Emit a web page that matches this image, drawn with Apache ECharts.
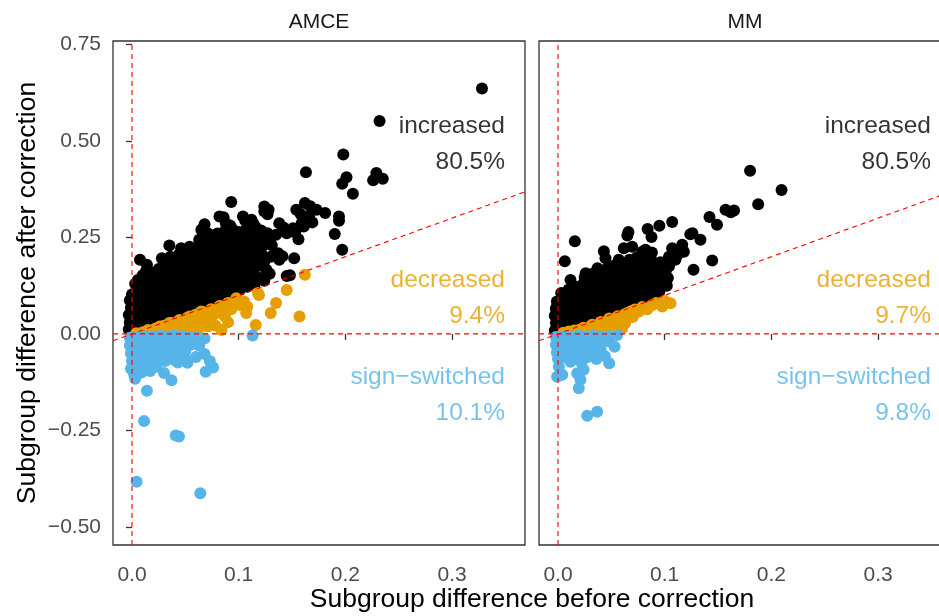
<!DOCTYPE html>
<html><head><meta charset="utf-8">
<script src="https://cdn.jsdelivr.net/npm/echarts@6/dist/echarts.min.js"></script>
<style>html,body{margin:0;padding:0;background:#fff;}#c{width:939px;height:616px;}</style>
</head><body><div id="c"></div>
<script>
const panels = ['AMCE', 'MM'];
const xTickValues = [0, 0.1, 0.2, 0.3];
const xTickLabels = ['0.0', '0.1', '0.2', '0.3'];
const yTickValues = [-0.5, -0.25, 0, 0.25, 0.5, 0.75];
const yTickLabels = ['\u22120.50', '\u22120.25', '0.00', '0.25', '0.50', '0.75'];
const xTitle = 'Subgroup difference before correction';
const yTitle = 'Subgroup difference after correction';

const annotationX = 0.35;
const annotationY = [0.5, 0.1, -0.15];
const annotationNames = ['increased', 'decreased', 'sign\u2212switched'];
const amcePercents = ['80.5%', '9.4%', '10.1%'];
const mmPercents = ['80.5%', '9.7%', '9.8%'];

const amceIncreased = [
[0.328,0.636],[0.232,0.552],[0.198,0.465],[0.163,0.419],[0.201,0.406],[0.197,0.389],[0.229,0.417],[0.226,0.398],[0.235,0.402],[0.207,0.363],
[0.093,0.342],[0.128,0.322],[0.127,0.31],[0.167,0.331],[0.158,0.311],[0.162,0.302],[0.181,0.313],[0.194,0.304],[0.194,0.293],[0.162,0.339],[0.154,0.322],[0.173,0.322],[0.166,0.304],
[0.142,0.276],[0.153,0.263],[0.169,0.289],[0.161,0.278],[0.159,0.287],[0.19,0.259],[0.197,0.218],[0.156,0.245],[0.152,0.196],[0.148,0.152],[0.129,0.156],[0.124,0.188],[0.141,0.201],[0.151,0.274],[0.145,0.261],[0.138,0.287],[0.135,0.257],[0.127,0.261],[0.124,0.33],[0.124,0.317],[0.137,0.209],[0.138,0.192],[0.126,0.166],[0.124,0.138],[0.145,0.15],
[0.0075,0.192],[0.014,0.179],[0.035,0.229],[0.028,0.196],[0.046,0.222],[0.054,0.226],[0.068,0.284],[0.065,0.27],[0.071,0.261],[0.063,0.244],[0.073,0.236],[0.0858,0.302],[0.082,0.304],[0.088,0.287],[0.104,0.304],[0.112,0.296],[0.114,0.285],[0.106,0.294],[0.092,0.281],[0.087,0.267],[0.116,0.183],[0.123,0.175],[0.096,0.149],[0.107,0.131],[0.1,0.114],[0.0055,0.14],[0.013,0.162],
[-0.003,0.012],[-0.002,0.03],[-0.003,0.049],[-0.001,0.068],[-0.002,0.087],[0.000,0.102],
[0.004,0.018],[0.005,0.037],[0.003,0.056],[0.004,0.075],[0.005,0.094],[0.004,0.113],[0.003,0.13],
[0.011,0.024],[0.010,0.043],[0.009,0.062],[0.011,0.081],[0.010,0.1],[0.009,0.119],[0.011,0.138],[0.010,0.152],
[0.017,0.03],[0.018,0.049],[0.016,0.068],[0.017,0.087],[0.018,0.106],[0.016,0.125],[0.017,0.144],[0.018,0.16],
[0.024,0.037],[0.025,0.056],[0.023,0.075],[0.024,0.094],[0.025,0.113],[0.023,0.132],[0.024,0.151],[0.025,0.168],
[0.031,0.044],[0.032,0.063],[0.030,0.082],[0.031,0.101],[0.032,0.12],[0.030,0.139],[0.031,0.158],[0.032,0.176],
[0.038,0.051],[0.039,0.07],[0.037,0.089],[0.038,0.108],[0.039,0.127],[0.037,0.146],[0.038,0.165],[0.039,0.184],[0.036,0.2],
[0.045,0.058],[0.046,0.077],[0.044,0.096],[0.045,0.115],[0.046,0.134],[0.044,0.153],[0.045,0.172],[0.046,0.19],[0.044,0.206],
[0.052,0.065],[0.053,0.084],[0.051,0.103],[0.052,0.122],[0.053,0.141],[0.051,0.16],[0.052,0.179],[0.053,0.197],[0.051,0.212],
[0.059,0.072],[0.06,0.091],[0.058,0.11],[0.059,0.129],[0.06,0.148],[0.058,0.167],[0.059,0.186],[0.06,0.204],[0.058,0.22],
[0.066,0.079],[0.067,0.098],[0.065,0.117],[0.066,0.136],[0.067,0.155],[0.065,0.174],[0.066,0.193],[0.067,0.211],[0.065,0.228],
[0.073,0.086],[0.074,0.105],[0.072,0.124],[0.073,0.143],[0.074,0.162],[0.072,0.181],[0.073,0.2],[0.074,0.218],[0.072,0.236],
[0.08,0.093],[0.081,0.112],[0.079,0.131],[0.08,0.15],[0.081,0.169],[0.079,0.188],[0.08,0.207],[0.081,0.226],[0.079,0.244],[0.08,0.26],
[0.087,0.1],[0.088,0.119],[0.086,0.138],[0.087,0.157],[0.088,0.176],[0.086,0.195],[0.087,0.214],[0.088,0.233],[0.086,0.25],
[0.094,0.107],[0.095,0.126],[0.093,0.145],[0.094,0.164],[0.095,0.183],[0.093,0.202],[0.094,0.221],[0.095,0.24],[0.093,0.258],[0.094,0.272],
[0.101,0.114],[0.102,0.133],[0.1,0.152],[0.101,0.171],[0.102,0.19],[0.1,0.209],[0.101,0.228],[0.102,0.247],[0.1,0.264],
[0.108,0.122],[0.109,0.141],[0.107,0.16],[0.108,0.179],[0.109,0.198],[0.107,0.217],[0.108,0.236],[0.109,0.255],[0.107,0.272],
[0.115,0.13],[0.116,0.15],[0.114,0.17],[0.115,0.2],[0.116,0.22],[0.114,0.24],[0.115,0.26],[0.116,0.276],
[0.122,0.145],[0.121,0.21],[0.123,0.23],[0.122,0.25],[0.121,0.268],
[0.13,0.2],[0.131,0.23],[0.129,0.245]
];
const amceDecreased = [
[0.0977,0.0925],[0.105,0.084],[0.108,0.071],[0.107,0.054],[0.088,0.058],[0.087,0.045],[0.084,0.010],[0.116,0.023],[0.119,0.101],[0.118,0.106],[0.130,0.054],[0.135,0.080],[0.145,0.114],[0.157,0.045],[0.162,0.153],
[0.071,0.019],[0.073,0.036],[0.066,0.032],[0.060,0.045],[0.063,0.028],[0.057,0.019],[0.051,0.006],[0.039,0.005],[0.029,0.005],[0.020,0.004],[0.010,0.004],[0.004,0.002],
[0.0445,0.036],[0.035,0.028],[0.026,0.019],[0.054,0.045],[0.065,0.058],[0.076,0.062],[0.082,0.071],
[0.015,0.01],[0.022,0.014],[0.03,0.021],[0.037,0.028],[0.044,0.034],[0.052,0.042],[0.06,0.05],[0.067,0.056],[0.074,0.064],[0.082,0.072],[0.09,0.08],[0.097,0.086],
[0.042,0.018],[0.049,0.026],[0.056,0.03],[0.07,0.045],[0.077,0.05],[0.093,0.064],[0.101,0.075],[0.033,0.012],[0.048,0.012],[0.062,0.012],[0.078,0.022],[0.09,0.03],[0.014,0.004]
];
const amceSwitched = [
[0.113,-0.004],[0.063,-0.03],[0.068,-0.052],[0.073,-0.07],[0.076,-0.087],[0.069,-0.098],[0.049,-0.057],[0.043,-0.074],[0.03,-0.101],[0.037,-0.12],[0.017,-0.096],[0.003,-0.116],[0.014,-0.147],[0.0113,-0.226],[0.041,-0.263],[0.044,-0.266],[0.0043,-0.383],[0.064,-0.413],
[-0.002,-0.01],[0.005,-0.008],[0.012,-0.006],[0.019,-0.007],[0.026,-0.005],[0.033,-0.006],[0.04,-0.004],[0.047,-0.006],[0.054,-0.008],[0.061,-0.01],[0.068,-0.012],
[-0.002,-0.03],[0.006,-0.028],[0.013,-0.027],[0.02,-0.025],[0.027,-0.026],[0.034,-0.024],[0.041,-0.026],[0.048,-0.03],[0.055,-0.028],
[-0.001,-0.05],[0.007,-0.048],[0.014,-0.046],[0.021,-0.044],[0.028,-0.046],[0.035,-0.045],[0.042,-0.048],[0.05,-0.044],
[0,-0.07],[0.008,-0.066],[0.016,-0.064],[0.024,-0.068],[0.031,-0.07],[0.038,-0.066],[0.046,-0.062],
[-0.001,-0.09],[0.007,-0.085],[0.015,-0.08],[0.023,-0.085],[0.052,-0.075],[0.06,-0.06],[0.002,-0.105],[0.009,-0.1]
];

const mmIncreased = [
[0.18,0.423],[0.2095,0.373],[0.1876,0.336],[0.157,0.322],[0.165,0.32],[0.162,0.315],[0.142,0.303],[0.149,0.283],[0.107,0.29],[0.095,0.28],[0.084,0.272],[0.066,0.264],[0.0876,0.251],[0.0158,0.24],[0.0064,0.188],
[0.043,0.214],[0.0445,0.196],[0.0617,0.222],[0.0695,0.226],[0.082,0.218],[0.088,0.211],[0.107,0.222],[0.1164,0.231],[0.126,0.261],[0.1335,0.244],[0.1445,0.19],[0.127,0.166],[0.11,0.192],[0.104,0.175],[0.098,0.149],[0.082,0.114],[0.09,0.106],[0.0117,0.14],[0.065,0.255],[0.118,0.213],[0.104,0.2],[0.124,0.258],[0.037,0.17],[0.026,0.157],[0.057,0.192],[0.079,0.213],[0.1,0.18],[0.112,0.205],
[-0.003,0.009],[-0.002,0.028],[-0.003,0.047],[-0.002,0.066],[-0.001,0.084],
[0.004,0.015],[0.005,0.034],[0.003,0.053],[0.004,0.072],[0.005,0.091],[0.003,0.106],
[0.011,0.022],[0.012,0.041],[0.01,0.06],[0.011,0.079],[0.012,0.098],[0.01,0.115],
[0.018,0.029],[0.019,0.048],[0.017,0.067],[0.018,0.086],[0.019,0.105],[0.017,0.122],
[0.025,0.036],[0.026,0.055],[0.024,0.074],[0.025,0.093],[0.026,0.112],[0.024,0.131],[0.025,0.146],
[0.032,0.043],[0.033,0.062],[0.031,0.081],[0.032,0.1],[0.033,0.119],[0.031,0.138],[0.032,0.155],
[0.039,0.05],[0.04,0.069],[0.038,0.088],[0.039,0.107],[0.04,0.126],[0.038,0.145],[0.039,0.162],
[0.046,0.057],[0.047,0.076],[0.045,0.095],[0.046,0.114],[0.047,0.133],[0.045,0.152],[0.046,0.17],
[0.053,0.064],[0.054,0.083],[0.052,0.102],[0.053,0.121],[0.054,0.14],[0.052,0.159],[0.053,0.177],
[0.06,0.071],[0.061,0.09],[0.059,0.109],[0.06,0.128],[0.061,0.147],[0.059,0.166],[0.06,0.184],
[0.067,0.078],[0.068,0.097],[0.066,0.116],[0.067,0.135],[0.068,0.154],[0.066,0.173],[0.067,0.192],
[0.074,0.085],[0.075,0.104],[0.073,0.123],[0.074,0.142],[0.075,0.161],[0.073,0.18],[0.074,0.198],
[0.081,0.092],[0.082,0.111],[0.08,0.13],[0.081,0.149],[0.082,0.168],[0.08,0.187],[0.081,0.204],
[0.088,0.1],[0.089,0.12],[0.087,0.139],[0.088,0.158],[0.089,0.177],[0.087,0.195],
[0.095,0.11],[0.096,0.13],[0.094,0.15],[0.095,0.168],[0.096,0.186],
[0.102,0.125],[0.103,0.145],[0.101,0.163]
];
const mmDecreased = [
[0.1054,0.0796],[0.0977,0.0708],[0.0836,0.064],[0.0757,0.058],[0.068,0.058],[0.0617,0.049],[0.063,0.028],[0.054,0.036],[0.046,0.032],[0.035,0.019],[0.029,0.015],[0.0195,0.01],[0.01,0.006],[0.005,0.003],
[0.015,0.009],[0.024,0.016],[0.032,0.024],[0.04,0.031],[0.048,0.04],[0.056,0.046],[0.064,0.053],[0.072,0.063],[0.079,0.07],[0.088,0.074],
[0.04,0.013],[0.05,0.021],[0.058,0.032],[0.07,0.044],[0.06,0.014],[0.022,0.005],[0.033,0.007],[0.045,0.009],[0.092,0.08],[0.1,0.085]
];
const mmSwitched = [
[0.0555,-0.003],[0.053,-0.033],[0.048,-0.076],[0.0336,-0.0545],[0.04,-0.041],[0.029,-0.046],[0.024,-0.093],[0.018,-0.102],[0.021,-0.119],[0.0195,-0.141],[0.0117,-0.072],[0.0008,-0.085],[0.004,-0.106],[-0.0008,-0.111],[0.0274,-0.212],[0.0367,-0.2015],
[-0.002,-0.008],[0.005,-0.006],[0.012,-0.007],[0.019,-0.005],[0.026,-0.006],[0.033,-0.005],[0.04,-0.007],[0.047,-0.006],
[-0.002,-0.028],[0.006,-0.026],[0.013,-0.025],[0.02,-0.027],[0.027,-0.024],[0.034,-0.026],[0.041,-0.022],[0.048,-0.02],
[-0.001,-0.048],[0.007,-0.046],[0.014,-0.045],[0.021,-0.047],[0.028,-0.06],[0.036,-0.065],[0.044,-0.058],
[0,-0.065],[0.008,-0.062],[0.016,-0.064],[0.022,-0.075]
];

const panelData = [
  {inc: amceIncreased, dec: amceDecreased, sw: amceSwitched, pct: amcePercents},
  {inc: mmIncreased, dec: mmDecreased, sw: mmSwitched, pct: mmPercents}
];

const X_MIN = -0.0178, X_MAX = 0.3683, Y_MIN = -0.547, Y_MAX = 0.759;
const FONT = '"Liberation Sans", Arial, Helvetica, sans-serif';
const COL = {inc: '#000000', dec: '#E69F00', sw: '#56B4E9'};
const annColors = [COL.inc, COL.dec, COL.sw];
const grids = [
  {left: 113, top: 41, width: 412, height: 504},
  {left: 539, top: 41, width: 412, height: 504}
];
function labelFor(v, vals, labs) {
  const k = vals.findIndex(t => Math.abs(t - v) < 1e-9);
  return k >= 0 ? labs[k] : '';
}

const option = {
  animation: false,
  backgroundColor: '#ffffff',
  grid: grids.map(g => Object.assign({show: true, borderColor: '#333333', borderWidth: 1.3, backgroundColor: 'rgba(0,0,0,0)', containLabel: false, outerBoundsMode: 'none'}, g)),
  xAxis: grids.map((g, i) => ({
    type: 'value', gridIndex: i, min: X_MIN, max: X_MAX,
    axisLine: {show: false}, splitLine: {show: false},
    axisTick: {show: true, customValues: xTickValues, length: 6, lineStyle: {color: '#333333', width: 1.3}},
    axisLabel: {show: true, customValues: xTickValues, formatter: v => labelFor(v, xTickValues, xTickLabels),
      fontSize: 21, color: '#4D4D4D', fontFamily: FONT, margin: 20}
  })),
  yAxis: grids.map((g, i) => ({
    type: 'value', gridIndex: i, min: Y_MIN, max: Y_MAX,
    axisLine: {show: false}, splitLine: {show: false},
    axisTick: {show: i === 0, customValues: yTickValues, length: 6, lineStyle: {color: '#333333', width: 1.3}},
    axisLabel: {show: i === 0, customValues: yTickValues, formatter: v => labelFor(v, yTickValues, yTickLabels),
      fontSize: 21, color: '#4D4D4D', fontFamily: FONT, margin: 12}
  })),
  series: [],
  graphic: []
};

panelData.forEach((pd, i) => {
  const base = {xAxisIndex: i, yAxisIndex: i, silent: true};
  [['inc', 2], ['dec', 3], ['sw', 4]].forEach(([k, z]) => {
    option.series.push(Object.assign({type: 'scatter', data: pd[k], symbol: 'circle', symbolSize: 12,
      itemStyle: {color: COL[k], opacity: 1}, z: z}, base));
  });
  const dash = {color: '#FF0000', type: [5, 4], width: 1.1};
  option.series.push(Object.assign({type: 'line', data: [[X_MIN, X_MIN], [X_MAX, X_MAX]], symbol: 'none', lineStyle: dash, z: 6}, base));
  option.series.push(Object.assign({type: 'line', data: [[X_MIN, 0], [X_MAX, 0]], symbol: 'none', lineStyle: dash, z: 6}, base));
  option.series.push(Object.assign({type: 'line', data: [[0, Y_MIN], [0, Y_MAX]], symbol: 'none', lineStyle: dash, z: 6}, base));
  option.series.push(Object.assign({
    type: 'scatter', symbolSize: 1, itemStyle: {color: 'rgba(0,0,0,0)'}, z: 10,
    data: annotationY.map((y, k) => ({
      value: [annotationX, y],
      label: {show: true, position: 'left', distance: 0, offset: [0, 3], align: 'right', verticalAlign: 'middle',
        formatter: annotationNames[k] + '\n' + pd.pct[k], color: annColors[k],
        fontSize: 24.5, lineHeight: 36, fontFamily: FONT}
    }))
  }, base));
  option.graphic.push({type: 'text', x: grids[i].left + grids[i].width / 2, y: 22, silent: true,
    style: {text: panels[i], fontSize: 21, fontFamily: FONT, fill: '#1A1A1A', align: 'center', verticalAlign: 'middle'}});
});
option.graphic.push({type: 'text', x: (grids[0].left + grids[1].left + grids[1].width) / 2, y: 600, silent: true,
  style: {text: xTitle, fontSize: 26.5, fontFamily: FONT, fill: '#000000', align: 'center', verticalAlign: 'middle'}});
option.graphic.push({type: 'text', x: 28, y: grids[0].top + grids[0].height / 2, rotation: Math.PI / 2, silent: true,
  style: {text: yTitle, fontSize: 26.5, fontFamily: FONT, fill: '#000000', align: 'center', verticalAlign: 'middle'}});

const chart = echarts.init(document.getElementById('c'), null, {renderer: 'canvas'});
chart.setOption(option);
</script>
</body></html>
